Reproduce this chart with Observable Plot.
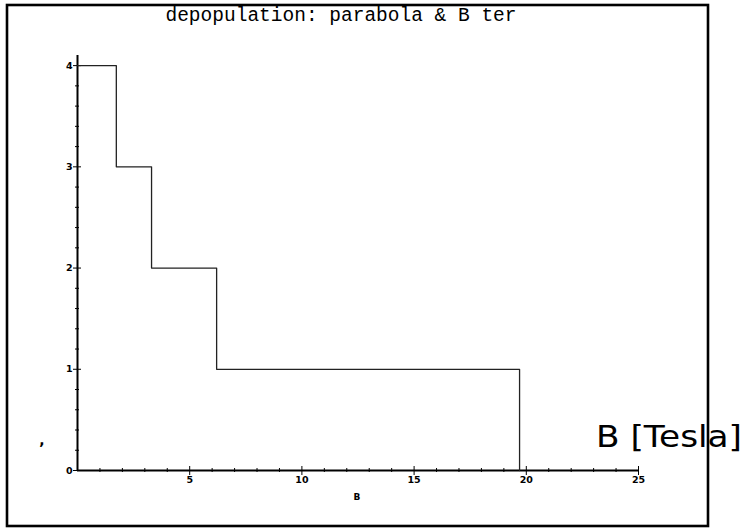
<!DOCTYPE html>
<html>
<head>
<meta charset="utf-8">
<script src="https://cdn.jsdelivr.net/npm/d3@7"></script>
<script src="https://cdn.jsdelivr.net/npm/@observablehq/plot@0.6"></script>
<style>
  html, body { margin: 0; padding: 0; background: #fff; }
  #chart svg { display: block; }
</style>
</head>
<body>
<div id="chart"></div>
<script>
// Data: step edges of the depopulation staircase
const B = [0, 1.73, 3.3, 6.2, 19.7];
const levels = [4, 3, 2, 1, 0];
const xMajor = [5, 10, 15, 20, 25];
const xMinor = d3.range(1, 25, 1).filter(v => v % 5 !== 0);
const yMajor = [0, 1, 2, 3, 4];
const yMinor = d3.range(0.2, 4, 0.2).map(v => +v.toFixed(1)).filter(v => Math.abs(v - Math.round(v)) > 1e-6);
const title = "depopulation: parabola & B ter";
const xLabel = "B";
const yLabel = ",";
const note = "B [Tesla]";

const W = 746, H = 531;
const mL = 77, mR = 108, mT = 55, mB = 61;
const plotW = W - mL - mR;
const plotH = H - mT - mB;

const steps = B.map((b, i) => ({B: b, n: levels[i]}));

const tickFont = {fontFamily: "DejaVu Sans", fontWeight: "bold", fontSize: 9.5};

const chart = Plot.plot({
  width: W,
  height: H,
  marginLeft: mL,
  marginRight: mR,
  marginTop: mT,
  marginBottom: mB,
  style: {background: "#fff", color: "#000", fontFamily: "DejaVu Sans"},
  x: {domain: [0, 25]},
  y: {domain: [0, 4.1]},
  marks: [
    // axis lines
    Plot.ruleY([0], {x1: 0, x2: 25, stroke: "#000", strokeWidth: 2}),
    Plot.ruleX([0], {y1: 0, y2: 4.1, stroke: "#000", strokeWidth: 2}),
    // x ticks: major (outside + inside), minor
    Plot.axisX({ticks: xMajor, tickSize: 5, tickPadding: 1, tickFormat: d => String(d), label: null, ...tickFont, fill: "#000"}),
    Plot.tickX(xMajor, {x: d => d, insetTop: plotH - 4, stroke: "#000"}),
    Plot.axisX({ticks: xMinor, tickSize: 2, tickFormat: () => "", label: null}),
    Plot.tickX(xMinor, {x: d => d, insetTop: plotH - 2, stroke: "#000"}),
    // y ticks
    Plot.axisY({ticks: yMajor, tickSize: 4, tickPadding: 1, tickFormat: d => String(d), label: null, ...tickFont, fill: "#000"}),
    Plot.tickY(yMajor.filter(v => v > 0), {y: d => d, insetRight: plotW - 4, stroke: "#000"}),
    Plot.axisY({ticks: yMinor, tickSize: 2, tickFormat: () => "", label: null}),
    Plot.tickY(yMinor, {y: d => d, insetRight: plotW - 2, stroke: "#000"}),
    // staircase
    Plot.line(steps, {x: "B", y: "n", curve: "step-after", stroke: "#222", strokeWidth: 1.3})
  ]
});

const svg = d3.select(chart);
// outer frame
svg.append("rect")
  .attr("x", 7).attr("y", 5).attr("width", 701).attr("height", 521)
  .attr("fill", "none").attr("stroke", "#000").attr("stroke-width", 2.6);
// title
svg.append("text")
  .attr("x", 341).attr("y", 21)
  .attr("text-anchor", "middle")
  .attr("font-family", "Liberation Mono, Courier New, monospace")
  .attr("font-size", 19.5)
  .attr("fill", "#000")
  .text(title);
// x label
svg.append("text")
  .attr("x", 357).attr("y", 500)
  .attr("text-anchor", "middle")
  .attr("font-family", "DejaVu Sans").attr("font-weight", "bold").attr("font-size", 9)
  .text(xLabel);
// y label
svg.append("text")
  .attr("x", 42).attr("y", 445)
  .attr("text-anchor", "middle")
  .attr("font-family", "DejaVu Sans").attr("font-weight", "bold").attr("font-size", 14)
  .text(yLabel);
// handwritten note
svg.append("text")
  .attr("x", 596).attr("y", 447)
  .attr("text-anchor", "start")
  .attr("font-family", "DejaVu Sans").attr("font-weight", "normal").attr("font-size", 31)
  .attr("textLength", 146).attr("lengthAdjust", "spacingAndGlyphs")
  .attr("fill", "#000")
  .text(note);

document.getElementById("chart").appendChild(chart);
</script>
</body>
</html>
